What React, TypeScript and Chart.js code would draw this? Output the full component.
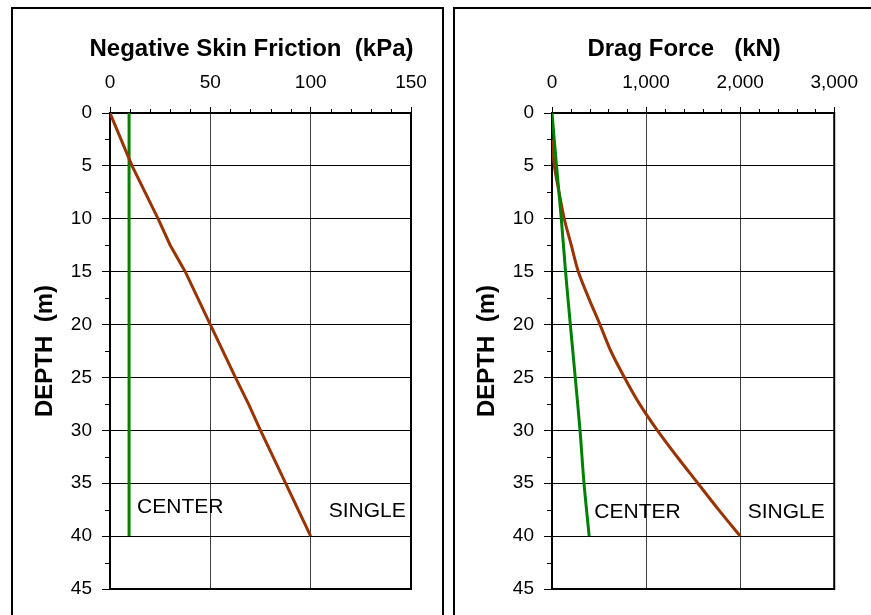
import React, { useEffect, useRef } from 'react';
import { Chart, registerables } from 'chart.js';
Chart.register(...registerables);

const FONT = '"Liberation Sans", Arial, Helvetica, sans-serif';

// ---------- data ----------
const depthMin = 0;
const depthMax = 45;
const depthStep = 5;
const depthMinor = [2.5, 7.5, 12.5, 17.5, 22.5, 27.5, 32.5, 37.5, 42.5];

// Negative skin friction (kPa)
const nsfMax = 150;
const nsfStep = 50;
const nsfMinor = [10, 20, 30, 40, 60, 70, 80, 90, 110, 120, 130, 140];
const nsfDepthSingle = [0, 5, 10, 12.5, 15, 20, 25, 27.5, 30, 35, 40];
const nsfSingle = [0, 11, 24, 30, 37.5, 50, 62.5, 69, 75, 87.5, 100];
const nsfDepthCenter = [0, 40];
const nsfCenter = [9.5, 9.5];
const nsfLabelX = [13.5, 109];
const nsfLabelDepth = [37.3, 37.6];

// Drag force (kN)
const dragMax = 3000;
const dragStep = 1000;
const dragMinor = [200, 400, 600, 800, 1200, 1400, 1600, 1800, 2200, 2400, 2600, 2800];
const dragDepthSingle = [2.5, 5, 7.5, 10, 12.5, 15, 17.5, 20, 22.5, 25, 27.5, 30, 32.5, 35, 37.5, 40];
const dragSingle = [0, 25, 75, 130, 205, 280, 390, 510, 625, 770, 930, 1120, 1330, 1550, 1770, 2000];
const dragDepthCenter = [0, 5, 10, 15, 20, 25, 30, 35, 40];
const dragCenter = [0, 48, 99, 144, 195, 247, 298, 340, 395];
const dragLabelX = [450, 2080];
const dragLabelDepth = [37.7, 37.7];

const labelNames = ['CENTER', 'SINGLE'];
const nsfTitle = 'Negative Skin Friction  (kPa)';
const dragTitle = 'Drag Force   (kN)';
const depthTitle = 'DEPTH  (m)';

const SINGLE_COLOR = '#993300';
const CENTER_COLOR = '#008000';

function pts(xs: number[], ys: number[]) {
  return xs.map((v, i) => ({ x: v, y: ys[i] }));
}

function makeDecor(opts: { title: string; xMinor: number[]; labelX: number[]; labelDepth: number[] }) {
  return {
    id: 'decor',
    afterDraw(chart: any) {
      const { ctx, chartArea: a, scales } = chart;
      const x = scales.x;
      const y = scales.y;
      ctx.save();
      ctx.strokeStyle = '#000';
      ctx.lineWidth = 2;
      ctx.beginPath();
      ctx.moveTo(a.right, a.top - 1);
      ctx.lineTo(a.right, a.bottom);
      ctx.lineTo(a.left - 1, a.bottom);
      ctx.stroke();

      ctx.lineWidth = 1;
      ctx.beginPath();
      for (const v of opts.xMinor) {
        const px = Math.round(x.getPixelForValue(v)) + 0.5;
        ctx.moveTo(px, a.top - 4);
        ctx.lineTo(px, a.top);
      }
      for (const v of depthMinor) {
        const py = Math.round(y.getPixelForValue(v)) + 0.5;
        ctx.moveTo(a.left - 5, py);
        ctx.lineTo(a.left, py);
      }
      ctx.stroke();

      ctx.fillStyle = '#000';
      ctx.textAlign = 'center';
      ctx.textBaseline = 'middle';
      ctx.font = `bold 24px ${FONT}`;
      ctx.fillText(opts.title, (a.left + a.right) / 2 - 9, 49);

      ctx.font = `21px ${FONT}`;
      ctx.textAlign = 'left';
      opts.labelX.forEach((lx, i) => {
        ctx.fillText(labelNames[i], x.getPixelForValue(lx), y.getPixelForValue(opts.labelDepth[i]));
      });

      ctx.font = `bold 24px ${FONT}`;
      ctx.textAlign = 'center';
      ctx.translate(a.left - 65, (a.top + a.bottom) / 2);
      ctx.rotate(-Math.PI / 2);
      ctx.fillText(depthTitle, 0, 0);
      ctx.restore();
    },
  };
}

function makeConfig(p: {
  xMax: number;
  xStep: number;
  yWidth: number;
  padRight: number;
  datasets: any[];
  decor: any;
  comma: boolean;
}): any {
  return {
    type: 'scatter',
    data: { datasets: p.datasets },
    options: {
      animation: false,
      responsive: false,
      layout: { padding: { left: 0, top: 0, right: p.padRight, bottom: 26 } },
      plugins: { legend: { display: false }, tooltip: { enabled: false }, title: { display: false } },
      scales: {
        x: {
          type: 'linear',
          position: 'top',
          min: 0,
          max: p.xMax,
          ticks: {
            stepSize: p.xStep,
            font: { family: FONT, size: 19 },
            color: '#000',
            padding: 13,
            maxRotation: 0,
            autoSkip: false,
            callback: (v: any) => (p.comma ? Number(v).toLocaleString('en-US') : String(v)),
          },
          grid: {
            color: (c: any) =>
              c.tick && (c.tick.value === 0 || c.tick.value === p.xMax) ? 'rgba(0,0,0,0)' : '#404040',
            tickColor: '#000',
            tickLength: 6,
            lineWidth: 1,
          },
          border: { display: true, color: '#000', width: 2 },
          afterFit: (s: any) => {
            s.height = 113;
          },
        },
        y: {
          type: 'linear',
          position: 'left',
          reverse: true,
          min: depthMin,
          max: depthMax,
          ticks: {
            stepSize: depthStep,
            font: { family: FONT, size: 19 },
            color: '#000',
            padding: 10,
          },
          grid: { color: '#000', tickColor: '#000', tickLength: 8, lineWidth: 1 },
          border: { display: true, color: '#000', width: 2 },
          afterFit: (s: any) => {
            s.width = p.yWidth;
          },
        },
      },
    },
    plugins: [p.decor],
  };
}

const lineDs = (data: any[], color: string, tension: number) => ({
  data,
  showLine: true,
  borderColor: color,
  backgroundColor: color,
  borderWidth: 3,
  pointRadius: 0,
  tension,
  fill: false,
});

export default function App() {
  const leftRef = useRef<HTMLCanvasElement>(null);
  const rightRef = useRef<HTMLCanvasElement>(null);

  useEffect(() => {
    const c1 = new Chart(
      leftRef.current!,
      makeConfig({
        xMax: nsfMax,
        xStep: nsfStep,
        yWidth: 110,
        padRight: 37,
        comma: false,
        datasets: [
          lineDs(pts(nsfSingle, nsfDepthSingle), SINGLE_COLOR, 0),
          lineDs(pts(nsfCenter, nsfDepthCenter), CENTER_COLOR, 0),
        ],
        decor: makeDecor({ title: nsfTitle, xMinor: nsfMinor, labelX: nsfLabelX, labelDepth: nsfLabelDepth }),
      })
    );
    const c2 = new Chart(
      rightRef.current!,
      makeConfig({
        xMax: dragMax,
        xStep: dragStep,
        yWidth: 104,
        padRight: 27,
        comma: true,
        datasets: [
          lineDs(pts(dragCenter, dragDepthCenter), CENTER_COLOR, 0.3),
          lineDs(pts(dragSingle, dragDepthSingle), SINGLE_COLOR, 0.3),
        ],
        decor: makeDecor({ title: dragTitle, xMinor: dragMinor, labelX: dragLabelX, labelDepth: dragLabelDepth }),
      })
    );
    return () => {
      c1.destroy();
      c2.destroy();
    };
  }, []);

  return (
    <div
      style={{
        position: 'absolute',
        left: 0,
        top: 0,
        width: 871,
        height: 615,
        overflow: 'hidden',
        background: '#fff',
      }}
    >
      <div
        style={{
          position: 'absolute',
          left: 11,
          top: 7,
          width: 429,
          height: 700,
          border: '2px solid #000',
        }}
      />
      <div
        style={{
          position: 'absolute',
          left: 453,
          top: 7,
          width: 500,
          height: 700,
          border: '2px solid #000',
        }}
      />
      <canvas
        ref={leftRef}
        width={448}
        height={615}
        style={{ position: 'absolute', left: 0, top: 0, width: 448, height: 615 }}
      />
      <canvas
        ref={rightRef}
        width={423}
        height={615}
        style={{ position: 'absolute', left: 448, top: 0, width: 423, height: 615 }}
      />
    </div>
  );
}
